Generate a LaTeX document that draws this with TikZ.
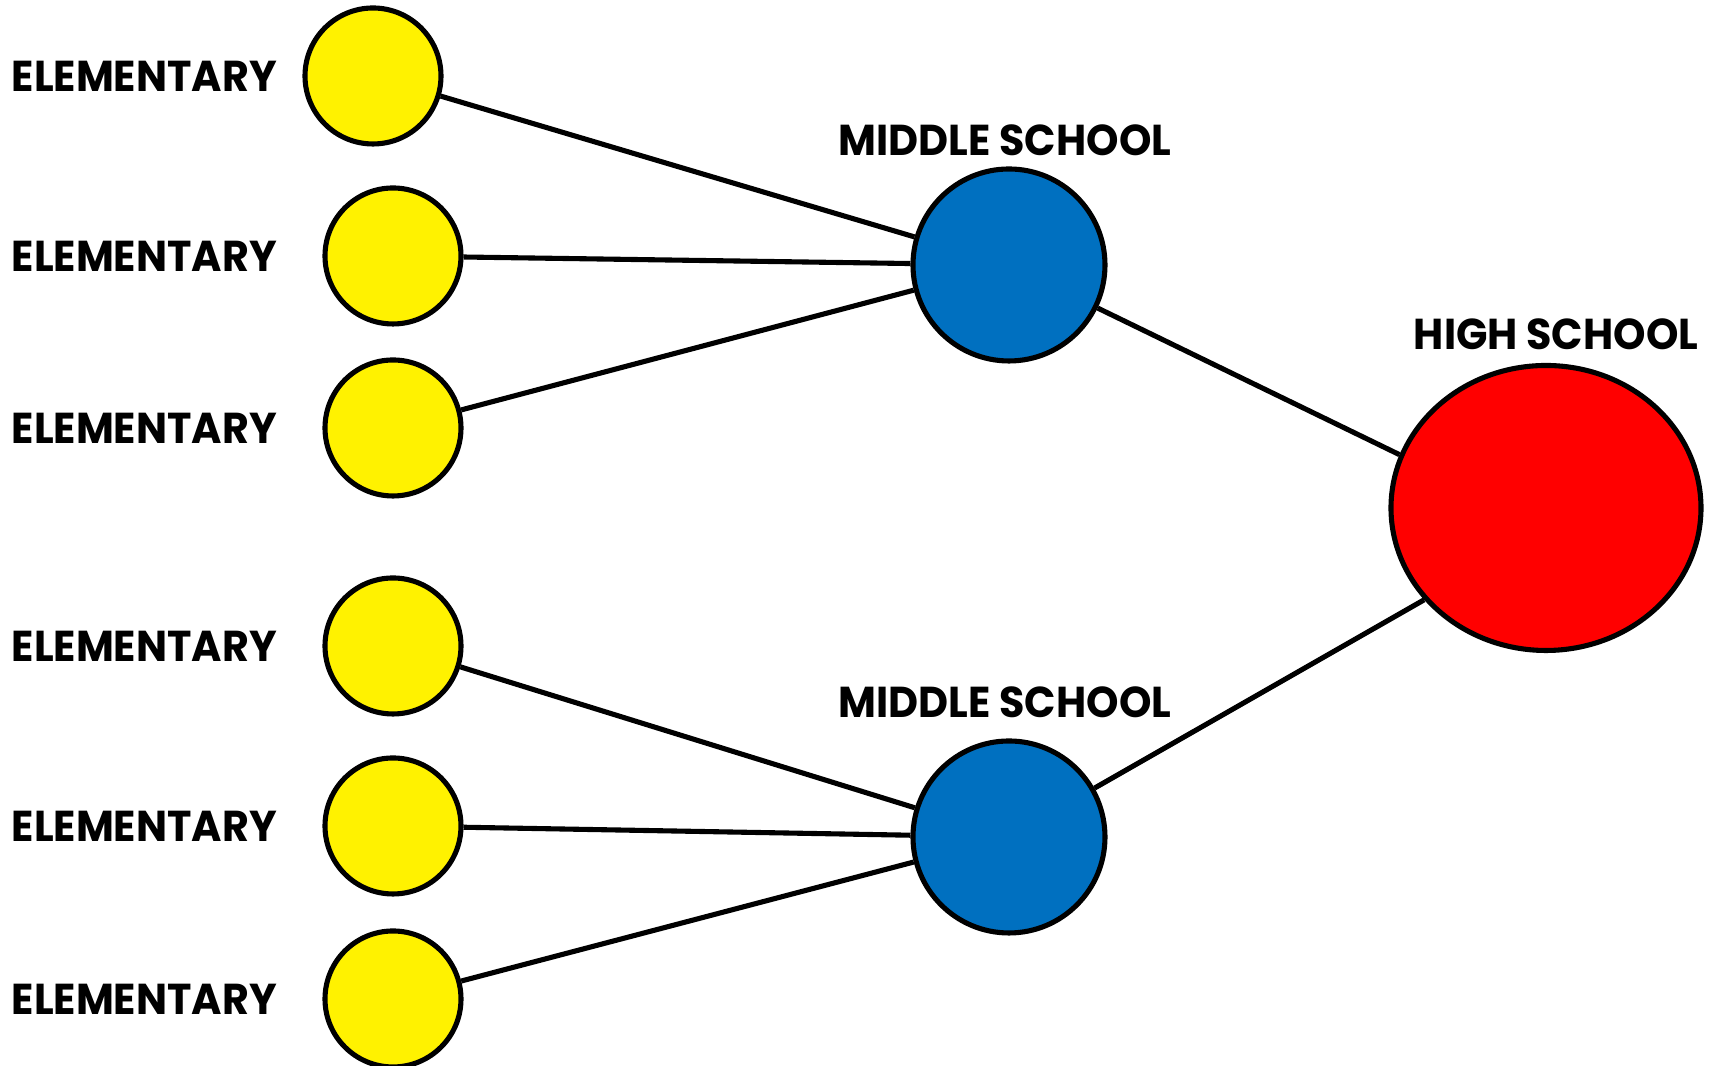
\documentclass[tikz,border=0pt]{standalone}
\usepackage{fontspec}
\setmainfont{Poppins}[FakeStretch=0.955]
\tikzset{
  school/.style={circle,draw=black,line width=1.45pt,inner sep=0pt},
  elem/.style={school,fill=yellow,minimum size=1.36cm},
  middle/.style={school,fill={rgb,255:red,0;green,112;blue,192},minimum size=1.92cm},
  high/.style={ellipse,draw=black,line width=1.45pt,fill=red,minimum width=3.10cm,minimum height=2.85cm},
  tag/.style={font=\fontsize{12.3}{14}\selectfont\bfseries,inner sep=0pt},
  link/.style={line width=1.45pt}
}
\usetikzlibrary{shapes.geometric}
\begin{document}
\begin{tikzpicture}
\useasboundingbox (0,0) rectangle (17.19,10.66);
% elementary schools
\node[elem] (e1) at (3.73,9.90) {};
\node[elem] (e2) at (3.93,8.10) {};
\node[elem] (e3) at (3.93,6.38) {};
\node[elem] (e4) at (3.93,4.20) {};
\node[elem] (e5) at (3.93,2.40) {};
\node[elem] (e6) at (3.93,0.67) {};
\foreach \i in {1,...,6}
  \node[tag,anchor=west] (t\i) at (0.11,0|-e\i) {ELEMENTARY};
% middle schools
\node[middle] (m1) at (10.09,8.01) {};
\node[middle] (m2) at (10.09,2.29) {};
\node[tag] (tm1) at (10.05,9.26) {MIDDLE SCHOOL};
\node[tag] (tm2) at (10.05,3.64) {MIDDLE SCHOOL};
% high school
\node[high] (h) at (15.46,5.58) {};
\node[tag] (th) at (15.56,7.32) {HIGH SCHOOL};
\draw[link] (e1)--(m1);
\draw[link] (e2)--(m1);
\draw[link] (e3)--(m1);
\draw[link] (e4)--(m2);
\draw[link] (e5)--(m2);
\draw[link] (e6)--(m2);
\draw[link] (m1)--(h.160);
\draw[link] (m2)--(h.217);
\end{tikzpicture}
\end{document}
